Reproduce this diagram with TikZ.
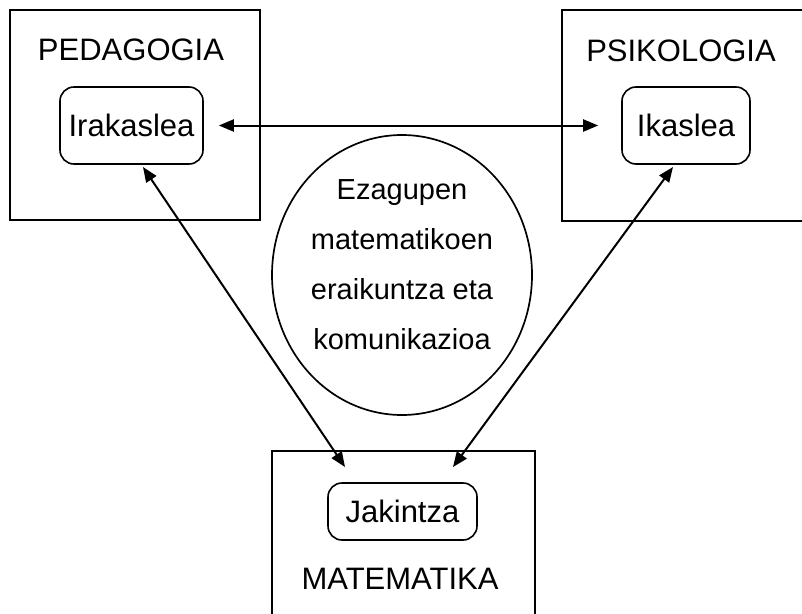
\documentclass[tikz,border=0pt]{standalone}
\usepackage{fontspec}
\setmainfont{Liberation Sans}
\usetikzlibrary{arrows.meta}
\begin{document}
\begin{tikzpicture}[x=1pt,y=-1pt,
  outerbox/.style={draw, line width=2pt, rectangle, inner sep=0pt},
  innerbox/.style={draw, line width=1.6pt, rectangle, rounded corners=14pt, inner sep=0pt,
     font=\fontsize{31}{37}\selectfont},
  title/.style={anchor=base, inner sep=0pt, font=\fontsize{31}{37}\selectfont},
  link/.style={line width=2pt, {Triangle[length=15pt,width=12pt]}-{Triangle[length=15pt,width=12pt]}}
]
\useasboundingbox (0,0) rectangle (802,613);
\fill[white] (0,0) rectangle (802,613);
% outer boxes
\node[outerbox, minimum width=250pt, minimum height=210pt] (ped) at (135,115) {};
\node[outerbox, minimum width=250pt, minimum height=211pt] (psi) at (687,115.5) {};
\node[outerbox, minimum width=263pt, minimum height=170pt] (mat) at (403.5,536) {};
% titles
\node[title] (pedt) at (131,60) {PEDAGOGIA};
\node[title] (psit) at (681,61) {PSIKOLOGIA};
\node[title] (matt) at (400,589) {MATEMATIKA};
% inner boxes
\node[innerbox, minimum width=143pt, minimum height=77pt] (irak) at (131.5,125.5) {Irakaslea};
\node[innerbox, minimum width=128pt, minimum height=77pt] (ikas) at (686,125.5) {Ikaslea};
\node[innerbox, minimum width=149pt, minimum height=57pt] (jak) at (402.5,511.5) {Jakintza};
% central ellipse
\draw[line width=1.7pt] (402,275) ellipse [x radius=130, y radius=140];
\node[align=center, inner sep=0pt, font=\fontsize{29}{50}\selectfont, anchor=center] (ezag) at (402,265)
  {Ezagupen\\matematikoen\\eraikuntza eta\\komunikazioa};
% connector ends
\coordinate (a1) at (143,167);
\coordinate (a2) at (345,467);
\coordinate (b1) at (673,167);
\coordinate (b2) at (453,467);
% connectors
\draw[link, shorten <=15pt, shorten >=23pt] (irak.east) -- (ikas.west);
\draw[link] (a1) -- (a2);
\draw[link] (b1) -- (b2);
\end{tikzpicture}
\end{document}
